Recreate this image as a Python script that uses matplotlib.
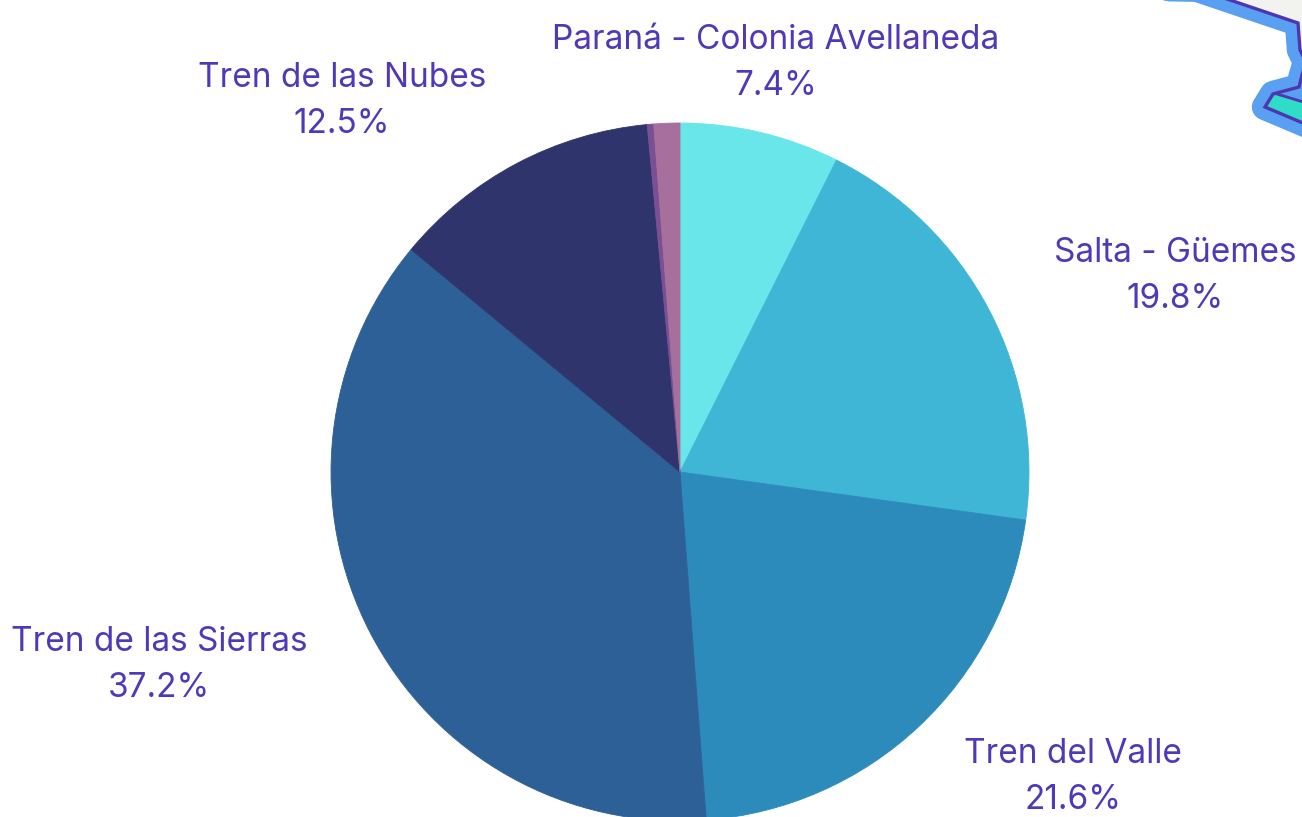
import matplotlib
matplotlib.use("Agg")
import matplotlib.pyplot as plt
from matplotlib.patches import Polygon

W, H = 1302, 817

names = ["Paraná - Colonia Avellaneda", "Salta - Güemes", "Tren del Valle",
         "Tren de las Sierras", "Tren de las Nubes", "", ""]
values = [7.4, 19.8, 21.6, 37.2, 12.5, 0.3, 1.2]
colors = ["#69e6ea", "#40b6d6", "#2c8bba", "#2e6098", "#2f346c", "#7a4f94", "#a76f9c"]

# label centres in pixels, top left origin
label_pos = [(776, 63), (1175, 276), (1073, 777), (159, 665), (342, 101)]

text_color = "#5039b8"
plt.rcParams['font.family'] = ['Inter', 'DejaVu Sans']

fig = plt.figure(figsize=(W/100, H/100), dpi=100, facecolor="white")

# pie: centre (680, 472), radius 349
cx, cy, r = 680, 472, 349
ax = fig.add_axes([(cx - r)/W, (H - cy - r)/H, 2*r/W, 2*r/H])
wedges, _ = ax.pie(values, colors=colors, startangle=90, counterclock=False, radius=1)
for w, c in zip(wedges, colors):
    w.set_edgecolor(c)
    w.set_linewidth(0.6)
ax.set_xlim(-1, 1)
ax.set_ylim(-1, 1)
ax.set_aspect("equal")
ax.axis("off")

for name, val, (x, y) in zip(names, values, label_pos):
    fig.text(x/W, 1 - y/H, "%s\n%.1f%%" % (name, val), ha="center", va="center",
             color=text_color, fontsize=24, linespacing=1.55)

# map fragment in the top right corner
bg = fig.add_axes([0, 0, 1, 1], zorder=3)
bg.set_xlim(0, W)
bg.set_ylim(H, 0)
bg.axis("off")
bg.patch.set_alpha(0)

outline = [(1168, -12), (1196, -11.5), (1298, 23), (1300, 50), (1306, 62), (1302, 75), (1299, 87),
           (1273, 94), (1265, 107), (1310, 126)]
xs, ys = zip(*outline)
# blue halo as a closed patch, a plain line gets cut at the canvas edge
bg.add_patch(Polygon(outline + [(1340, 126), (1340, -12)], closed=True, fc="#599ff2", ec="#599ff2",
                     lw=19, joinstyle="round", zorder=2))
bg.add_patch(Polygon([(1196, -11.5), (1298, 23), (1300, 50), (1330, 50), (1330, -17)], closed=True,
                     fc="#f2f3ee", ec="none", zorder=3))
bg.add_patch(Polygon([(1273, 94), (1265, 107), (1310, 126), (1310, 104)],
                     closed=True, fc="#2edcc8", ec="none", zorder=3))
bg.plot(xs[1:], ys[1:], color="#4f35b0", lw=2.4, solid_joinstyle="miter", zorder=4)
bg.plot([1277, 1310], [94, 104], color="#4f35b0", lw=2, zorder=4)

fig.savefig("out.png", dpi=100)
